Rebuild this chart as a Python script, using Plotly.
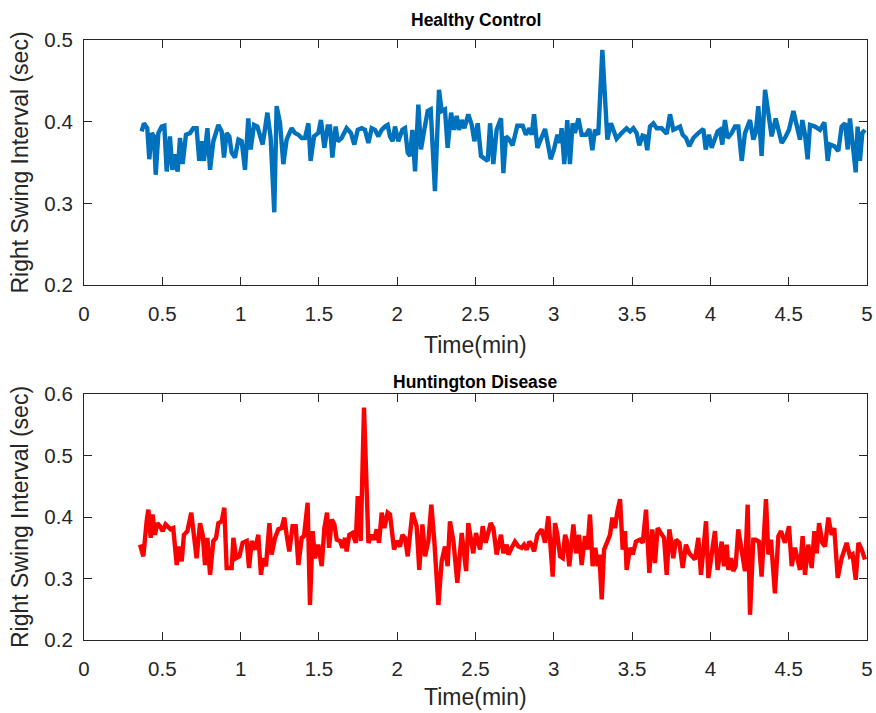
import plotly.graph_objects as go

# ---------------- Healthy Control ----------------
hc_time = [0.368, 0.383, 0.404, 0.417, 0.432, 0.447, 0.458, 0.475, 0.496, 0.513,
           0.528, 0.549, 0.564, 0.577, 0.587, 0.598, 0.613, 0.630, 0.651, 0.677,
           0.698, 0.719, 0.736, 0.751, 0.766, 0.788, 0.805, 0.826, 0.858, 0.879,
           0.894, 0.911, 0.928, 0.943, 0.964, 0.986, 1.007, 1.028, 1.049, 1.064,
           1.086, 1.107, 1.141, 1.171, 1.192, 1.215, 1.230, 1.252, 1.273, 1.294,
           1.326, 1.347, 1.369, 1.390, 1.411, 1.433, 1.447, 1.469, 1.496,
           1.513, 1.535, 1.556, 1.571, 1.586, 1.607, 1.620, 1.645, 1.677, 1.705,
           1.726, 1.748, 1.773, 1.794, 1.816, 1.837, 1.858, 1.880, 1.901, 1.922,
           1.939, 1.954, 1.971, 1.986, 2.007, 2.033, 2.050, 2.067, 2.082, 2.097,
           2.114, 2.135, 2.152, 2.173, 2.195, 2.214, 2.241, 2.267, 2.284, 2.305,
           2.322, 2.344, 2.363, 2.380, 2.395, 2.412, 2.429, 2.454, 2.476, 2.493,
           2.514, 2.535, 2.561, 2.578, 2.593, 2.614, 2.635, 2.663, 2.678,
           2.695, 2.716, 2.737, 2.767, 2.801, 2.822, 2.844, 2.859, 2.874, 2.895,
           2.922, 2.944, 2.965, 2.980, 3.001, 3.023, 3.040, 3.050, 3.067, 3.086,
           3.103, 3.120, 3.135, 3.157, 3.178, 3.206, 3.227, 3.246, 3.263, 3.284,
           3.310, 3.342, 3.365, 3.401, 3.433, 3.465, 3.487, 3.508, 3.529, 3.546,
           3.567, 3.582, 3.597, 3.614, 3.636, 3.657, 3.689, 3.721, 3.742, 3.763,
           3.785, 3.806, 3.823, 3.844, 3.865,
           3.891, 3.923, 3.955, 3.970, 3.991, 4.008, 4.029, 4.046, 4.061, 4.076,
           4.093, 4.110, 4.136, 4.157, 4.178, 4.200, 4.221, 4.253, 4.274, 4.289,
           4.306, 4.327, 4.349, 4.370, 4.391, 4.417, 4.438, 4.455, 4.476, 4.502,
           4.530, 4.551, 4.572, 4.587, 4.604, 4.621, 4.636, 4.668, 4.700, 4.728,
           4.749, 4.764, 4.791, 4.817, 4.838, 4.860, 4.877, 4.891, 4.908, 4.928,
           4.940, 4.955, 4.970, 4.987]
hc_swing = [0.388, 0.398, 0.392, 0.354, 0.386, 0.382, 0.335, 0.386, 0.394, 0.395,
            0.339, 0.382, 0.341, 0.360, 0.346, 0.339, 0.380, 0.348, 0.384, 0.386,
            0.392, 0.392, 0.352, 0.376, 0.352, 0.392, 0.341, 0.376, 0.396, 0.388,
            0.356, 0.386, 0.382, 0.362, 0.356, 0.378, 0.376, 0.341, 0.404, 0.366,
            0.396, 0.394, 0.372, 0.411, 0.380, 0.289, 0.419, 0.398, 0.348, 0.378,
            0.392, 0.386, 0.384, 0.380, 0.380, 0.398, 0.352, 0.382, 0.386,
            0.402, 0.368, 0.394, 0.394, 0.356, 0.394, 0.376, 0.380, 0.392, 0.386,
            0.372, 0.390, 0.392, 0.390, 0.374, 0.392, 0.390, 0.382, 0.390, 0.394,
            0.396, 0.382, 0.376, 0.394, 0.376, 0.390, 0.392, 0.362, 0.358, 0.390,
            0.339, 0.421, 0.366, 0.390, 0.413, 0.415, 0.315, 0.439, 0.413, 0.415,
            0.368, 0.411, 0.390, 0.407, 0.390, 0.402, 0.392, 0.409, 0.396, 0.376,
            0.398, 0.358, 0.354, 0.352, 0.398, 0.348, 0.390, 0.404, 0.337,
            0.382, 0.378, 0.371, 0.395, 0.395, 0.384, 0.392, 0.384, 0.409, 0.368,
            0.380, 0.391, 0.370, 0.354, 0.366, 0.384, 0.374, 0.392, 0.348, 0.402,
            0.348, 0.398, 0.386, 0.404, 0.384, 0.384, 0.391, 0.365, 0.390, 0.384,
            0.488, 0.378, 0.398, 0.379, 0.386, 0.392, 0.388, 0.392, 0.386, 0.371,
            0.383, 0.382, 0.365, 0.394, 0.398, 0.392, 0.392, 0.385, 0.409, 0.390,
            0.392, 0.394, 0.384, 0.380, 0.370,
            0.380, 0.386, 0.391, 0.366, 0.384, 0.368, 0.378, 0.388, 0.390, 0.372,
            0.402, 0.380, 0.386, 0.394, 0.394, 0.352, 0.386, 0.402, 0.378, 0.386,
            0.419, 0.358, 0.439, 0.407, 0.382, 0.404, 0.386, 0.374, 0.380, 0.390,
            0.413, 0.394, 0.378, 0.402, 0.384, 0.354, 0.396, 0.394, 0.390, 0.399,
            0.352, 0.372, 0.370, 0.364, 0.394, 0.398, 0.366, 0.404, 0.378, 0.338,
            0.394, 0.352, 0.386, 0.390]

# ---------------- Huntington Disease ----------------
hd_time = [0.358, 0.379, 0.400, 0.411, 0.426, 0.438, 0.453, 0.468, 0.485, 0.502,
           0.521, 0.539, 0.553, 0.570, 0.592, 0.609, 0.624, 0.638, 0.660, 0.685,
           0.702, 0.719, 0.741, 0.758, 0.773, 0.788, 0.805, 0.826, 0.843, 0.858,
           0.879, 0.896, 0.911, 0.943, 0.954, 0.971, 0.992, 1.013, 1.039, 1.054,
           1.071, 1.092, 1.113, 1.130, 1.145, 1.162, 1.184, 1.198, 1.220, 1.241,
           1.262, 1.279, 1.294, 1.311, 1.332, 1.352, 1.369, 1.390, 1.405, 1.428,
           1.443, 1.460, 1.475, 1.496,
           1.518, 1.535, 1.552, 1.565, 1.582, 1.599, 1.614, 1.635, 1.650, 1.667,
           1.677, 1.694, 1.714, 1.735, 1.748, 1.767, 1.788, 1.816, 1.837, 1.854,
           1.869, 1.884, 1.901, 1.918, 1.939, 1.954, 1.980, 1.997, 2.018, 2.033,
           2.050, 2.067, 2.097, 2.124, 2.141, 2.161, 2.178, 2.199, 2.218, 2.237,
           2.263, 2.284, 2.305, 2.322, 2.337, 2.359, 2.384, 2.412, 2.440, 2.454,
           2.486, 2.503, 2.529, 2.546, 2.565, 2.597, 2.614, 2.635, 2.663, 2.678,
           2.699, 2.710, 2.731, 2.752, 2.774, 2.795, 2.810, 2.827, 2.844, 2.859,
           2.874, 2.895, 2.922, 2.944, 2.965, 2.993, 3.008, 3.023, 3.040, 3.057,
           3.072, 3.082, 3.099, 3.125, 3.142, 3.161, 3.178, 3.199, 3.214, 3.231,
           3.248, 3.265, 3.280, 3.291, 3.306, 3.321, 3.342, 3.359, 3.374, 3.391,
           3.406, 3.423, 3.440, 3.455, 3.465, 3.487, 3.504, 3.525, 3.550, 3.568,
           3.589, 3.610, 3.629, 3.646, 3.663, 3.689, 3.704, 3.721, 3.738, 3.753,
           3.763, 3.780, 3.802, 3.823, 3.844, 3.865,
           3.880, 3.902, 3.923, 3.940, 3.955, 3.972, 3.987, 4.008, 4.029, 4.046,
           4.072, 4.087, 4.104, 4.115, 4.132, 4.146, 4.161, 4.178, 4.200, 4.221,
           4.238, 4.253, 4.274, 4.289, 4.310, 4.327, 4.355, 4.370, 4.387, 4.412,
           4.434, 4.451, 4.476, 4.502, 4.519, 4.540, 4.572, 4.589, 4.604, 4.625,
           4.647, 4.664, 4.679, 4.694, 4.715, 4.732, 4.753, 4.774, 4.791, 4.813,
           4.838, 4.870, 4.891, 4.908, 4.928, 4.945, 4.966, 4.987]
hd_swing = [0.355, 0.336, 0.393, 0.412, 0.366, 0.404, 0.371, 0.390, 0.385, 0.377,
            0.388, 0.382, 0.380, 0.382, 0.322, 0.352, 0.328, 0.371, 0.377, 0.407,
            0.361, 0.333, 0.390, 0.371, 0.322, 0.366, 0.306, 0.361, 0.366, 0.390,
            0.393, 0.415, 0.317, 0.317, 0.366, 0.333, 0.336, 0.358, 0.361, 0.317,
            0.361, 0.347, 0.371, 0.306, 0.333, 0.320, 0.390, 0.339, 0.366, 0.380,
            0.382, 0.399, 0.371, 0.344, 0.385, 0.385, 0.322, 0.366, 0.369, 0.423,
            0.257, 0.377, 0.333, 0.355,
            0.320, 0.382, 0.407, 0.350, 0.396, 0.388, 0.363, 0.361, 0.350, 0.366,
            0.344, 0.371, 0.374, 0.358, 0.434, 0.361, 0.578, 0.358, 0.371, 0.363,
            0.380, 0.358, 0.407, 0.382, 0.407, 0.404, 0.347, 0.361, 0.352, 0.371,
            0.366, 0.336, 0.407, 0.385, 0.314, 0.388, 0.336, 0.361, 0.420, 0.361,
            0.257, 0.328, 0.352, 0.320, 0.393, 0.361, 0.293, 0.374, 0.312, 0.390,
            0.341, 0.374, 0.347, 0.385, 0.358, 0.390, 0.382, 0.339, 0.371, 0.341,
            0.355, 0.339, 0.350, 0.360, 0.352, 0.350, 0.355, 0.347, 0.360, 0.355,
            0.344, 0.371, 0.380, 0.358, 0.401, 0.303, 0.390, 0.371, 0.336, 0.333,
            0.371, 0.363, 0.320, 0.388, 0.341, 0.371, 0.322, 0.369, 0.347, 0.404,
            0.320, 0.350, 0.320, 0.339, 0.266, 0.347, 0.360, 0.371, 0.399, 0.382,
            0.409, 0.429, 0.347, 0.377, 0.314, 0.350, 0.339, 0.360, 0.363, 0.358,
            0.412, 0.309, 0.380, 0.325, 0.382, 0.371, 0.366, 0.306, 0.380, 0.355,
            0.333, 0.363, 0.358, 0.317, 0.355, 0.341,
            0.336, 0.331, 0.366, 0.306, 0.347, 0.393, 0.301, 0.341, 0.377, 0.314,
            0.360, 0.320, 0.355, 0.314, 0.333, 0.312, 0.320, 0.380, 0.347, 0.312,
            0.420, 0.241, 0.363, 0.363, 0.360, 0.303, 0.429, 0.339, 0.363, 0.276,
            0.369, 0.377, 0.358, 0.385, 0.320, 0.350, 0.314, 0.369, 0.306, 0.355,
            0.317, 0.377, 0.341, 0.390, 0.358, 0.352, 0.399, 0.371, 0.382, 0.301,
            0.333, 0.358, 0.336, 0.339, 0.298, 0.358, 0.347, 0.331]

x_ticks = [0, 0.5, 1, 1.5, 2, 2.5, 3, 3.5, 4, 4.5, 5]
hc_yticks = [0.2, 0.3, 0.4, 0.5]
hd_yticks = [0.2, 0.3, 0.4, 0.5, 0.6]

FONT = "Liberation Sans, Arial, Helvetica, sans-serif"
TXT = "#262626"
W, H = 876, 713
TICK_SIZE = 20.5
LABEL_SIZE = 23
TITLE_SIZE = 17.5

fig = go.Figure()
fig.add_trace(go.Scatter(x=hc_time, y=hc_swing, mode="lines",
                         line=dict(color="#0072BD", width=4.4),
                         xaxis="x", yaxis="y", showlegend=False))
fig.add_trace(go.Scatter(x=hd_time, y=hd_swing, mode="lines",
                         line=dict(color="#FF0000", width=4.4),
                         xaxis="x2", yaxis="y2", showlegend=False))

xdom = [84 / W, 867 / W]
top_dom = [1 - 285 / H, 1 - 40 / H]
bot_dom = [1 - 640 / H, 1 - 394 / H]

base_axis = dict(showline=True, linecolor=TXT, linewidth=1.2, mirror="ticks",
                 ticks="inside", ticklen=8, tickwidth=1.2, tickcolor=TXT,
                 showgrid=False, zeroline=False, automargin=False,
                 tickfont=dict(family=FONT, size=TICK_SIZE, color=TXT))
xaxis_style = dict(base_axis, ticklabelstandoff=10)
yaxis_style = dict(base_axis, ticklabelstandoff=6)

fig.update_layout(
    width=W, height=H,
    margin=dict(l=0, r=0, t=0, b=0),
    paper_bgcolor="white", plot_bgcolor="white",
    font=dict(family=FONT, size=TICK_SIZE, color=TXT),
    xaxis=dict(domain=xdom, anchor="y", range=[0, 5], tickvals=x_ticks, **xaxis_style),
    yaxis=dict(domain=top_dom, anchor="x", range=[0.2, 0.5], tickvals=hc_yticks,
               tickformat=".1f", **yaxis_style),
    xaxis2=dict(domain=xdom, anchor="y2", range=[0, 5], tickvals=x_ticks, **xaxis_style),
    yaxis2=dict(domain=bot_dom, anchor="x2", range=[0.2, 0.6], tickvals=hd_yticks,
                tickformat=".1f", **yaxis_style),
)

xc = (84 + 867) / 2 / W
lab = dict(family=FONT, size=LABEL_SIZE, color=TXT)
ttl = dict(family=FONT, size=TITLE_SIZE, color="black")
notes = [
    dict(text="<b>Healthy Control</b>", x=xc, y=1 - 20 / H, font=ttl),
    dict(text="<b>Huntington Disease</b>", x=xc, y=1 - 382 / H, font=ttl),
    dict(text="Time(min)", x=xc, y=1 - 345 / H, font=lab),
    dict(text="Time(min)", x=xc, y=1 - 697 / H, font=lab),
    dict(text="Right Swing Interval (sec)", x=20 / W, y=1 - 162.5 / H, font=lab, textangle=-90),
    dict(text="Right Swing Interval (sec)", x=20 / W, y=1 - 517 / H, font=lab, textangle=-90),
]
for n in notes:
    fig.add_annotation(xref="paper", yref="paper", xanchor="center", yanchor="middle",
                       showarrow=False, **n)

fig.write_html("out.html", config={"displayModeBar": False},
               post_script="document.body.style.margin='0';document.body.style.padding='0';")
